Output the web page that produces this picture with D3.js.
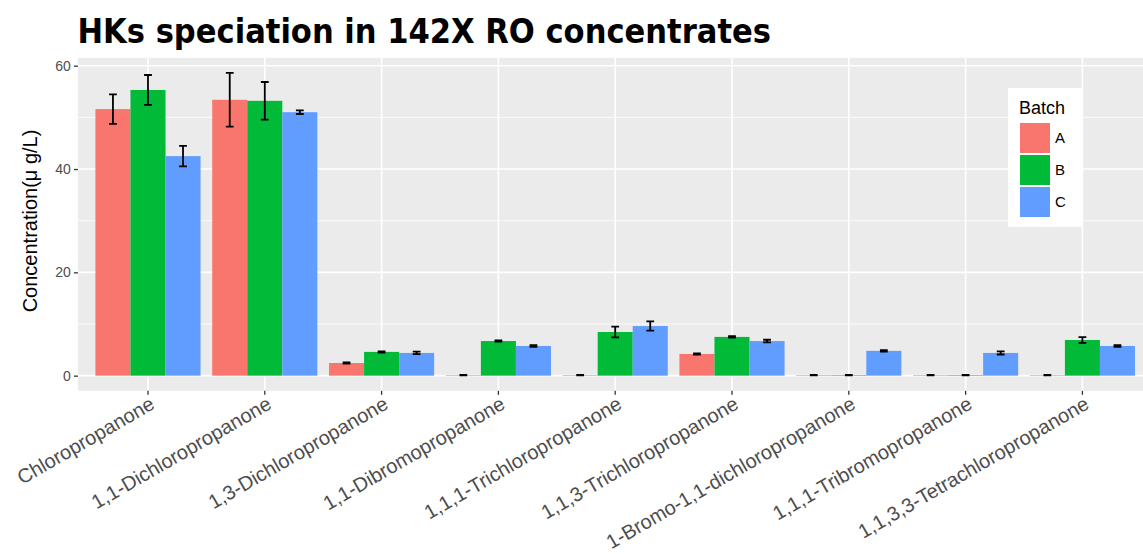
<!DOCTYPE html>
<html>
<head>
<meta charset="utf-8">
<script src="https://cdn.jsdelivr.net/npm/d3@7"></script>
<style>
  html, body { margin: 0; padding: 0; background: #fff; }
  svg { display: block; }
  .title { font-family: "DejaVu Sans Condensed", "DejaVu Sans", sans-serif; font-stretch: condensed; font-weight: bold; }
  text { font-family: "Liberation Sans", Arial, sans-serif; }
</style>
</head>
<body>
<svg id="chart" width="1143" height="554"></svg>
<script>
// Haloketone species measured in 142X RO concentrates, three batches
const compounds = [
  "Chloropropanone", "1,1-Dichloropropanone", "1,3-Dichloropropanone",
  "1,1-Dibromopropanone", "1,1,1-Trichloropropanone", "1,1,3-Trichloropropanone",
  "1-Bromo-1,1-dichloropropanone", "1,1,1-Tribromopropanone", "1,1,3,3-Tetrachloropropanone"
];
const batches = ["A", "B", "C"];
const batchColors = ["#F8766D", "#00BA38", "#619CFF"];

// mean concentrations (µg/L)
const meanA = [51.6, 53.4, 2.45, 0.1, 0.1, 4.2, 0.1, 0.1, 0.1];
const meanB = [55.3, 53.2, 4.6, 6.7, 8.45, 7.5, 0.1, 0.1, 6.9];
const meanC = [42.5, 51.0, 4.4, 5.75, 9.6, 6.7, 4.8, 4.4, 5.75];
// standard deviations (µg/L)
const sdA = [2.85, 5.2, 0.12, 0.05, 0.05, 0.12, 0.05, 0.05, 0.05];
const sdB = [2.9, 3.65, 0.12, 0.12, 1.05, 0.15, 0.05, 0.05, 0.55];
const sdC = [2.0, 0.35, 0.25, 0.15, 0.9, 0.25, 0.15, 0.3, 0.15];

const yTicks = [0, 20, 40, 60];
const yMinor = [10, 30, 50];

const means = [meanA, meanB, meanC];
const sds = [sdA, sdB, sdC];
const rows = [];
compounds.forEach((c, i) => {
  batches.forEach((b, j) => {
    rows.push({ compound: c, batch: b, mean: means[j][i], sd: sds[j][i] });
  });
});

const svg = d3.select("#chart");
const panel = { left: 77.9, right: 1152.5, top: 57.8, bottom: 390.8 };

const yMax = d3.max(rows, d => d.mean + d.sd);
const pad = yMax * 0.05;
const y = d3.scaleLinear().domain([-pad, yMax + pad]).range([panel.bottom, panel.top]);

const x = d3.scaleBand().domain(compounds)
  .range([panel.left, panel.right])
  .paddingInner(0.1).paddingOuter(0.15);
const xSub = d3.scaleBand().domain(batches).range([0, x.bandwidth()]).padding(0);
const color = d3.scaleOrdinal().domain(batches).range(batchColors);
const step = x.step();
const capW = step * 0.2 / 3;

// panel background
svg.append("rect")
  .attr("x", panel.left).attr("y", panel.top)
  .attr("width", panel.right - panel.left).attr("height", panel.bottom - panel.top)
  .attr("fill", "#EBEBEB");

// grid lines
svg.append("g").selectAll("line").data(yMinor).join("line")
  .attr("x1", panel.left).attr("x2", panel.right)
  .attr("y1", d => y(d)).attr("y2", d => y(d))
  .attr("stroke", "#fff").attr("stroke-width", 0.8);
svg.append("g").selectAll("line").data(yTicks).join("line")
  .attr("x1", panel.left).attr("x2", panel.right)
  .attr("y1", d => y(d)).attr("y2", d => y(d))
  .attr("stroke", "#fff").attr("stroke-width", 1.6);
svg.append("g").selectAll("line").data(compounds).join("line")
  .attr("x1", d => x(d) + x.bandwidth() / 2).attr("x2", d => x(d) + x.bandwidth() / 2)
  .attr("y1", panel.top).attr("y2", panel.bottom)
  .attr("stroke", "#fff").attr("stroke-width", 1.6);

// bars
svg.append("g").selectAll("rect").data(rows).join("rect")
  .attr("x", d => x(d.compound) + xSub(d.batch))
  .attr("width", xSub.bandwidth())
  .attr("y", d => y(d.mean))
  .attr("height", d => y(0) - y(d.mean))
  .attr("fill", d => color(d.batch));

// error bars
const eb = svg.append("g").attr("stroke", "#000").attr("stroke-width", 1.8).attr("fill", "none");
rows.forEach(d => {
  const cx = x(d.compound) + xSub(d.batch) + xSub.bandwidth() / 2;
  const hi = y(d.mean + d.sd), lo = y(d.mean - d.sd);
  eb.append("path")
    .attr("d", `M${cx - capW / 2},${hi}H${cx + capW / 2}M${cx},${hi}V${lo}M${cx - capW / 2},${lo}H${cx + capW / 2}`);
});

// y axis
const yAxis = svg.append("g")
  .attr("transform", `translate(${panel.left},0)`)
  .call(d3.axisLeft(y).tickValues(yTicks).tickSize(4).tickPadding(3).tickFormat(d3.format("d")));
yAxis.select(".domain").remove();
yAxis.selectAll(".tick line").attr("stroke", "#333").attr("stroke-width", 1.3);
yAxis.selectAll(".tick text").attr("fill", "#4D4D4D").style("font-size", "14px")
  .style("font-family", "'Liberation Sans', Arial, sans-serif");

// x axis
const xAxis = svg.append("g")
  .attr("transform", `translate(0,${panel.bottom})`)
  .call(d3.axisBottom(x).tickSize(4).tickPadding(3));
xAxis.select(".domain").remove();
xAxis.selectAll(".tick line").attr("stroke", "#333").attr("stroke-width", 1.3);
xAxis.selectAll(".tick text")
  .attr("fill", "#4D4D4D")
  .style("font-size", "20px")
  .style("font-family", "'Liberation Sans', Arial, sans-serif")
  .attr("text-anchor", "end")
  .attr("dy", null)
  .attr("y", null)
  .attr("transform", "translate(8,17) rotate(-30)");

// axis title
svg.append("text")
  .attr("transform", `translate(37,221) rotate(-90)`)
  .attr("text-anchor", "middle")
  .attr("fill", "#000")
  .style("font-size", "20px")
  .text("Concentration(\u03BC g/L)");

// title
svg.append("text")
  .attr("class", "title")
  .attr("x", 77.5).attr("y", 43)
  .attr("fill", "#000")
  .style("font-size", "34px")
  .text("HKs speciation in 142X RO concentrates");

// legend
const lg = svg.append("g").attr("transform", "translate(1008,88)");
lg.append("rect").attr("width", 74).attr("height", 139).attr("fill", "#fff");
lg.append("text").attr("x", 11).attr("y", 26).style("font-size", "18px").attr("fill", "#000").text("Batch");
batches.forEach((b, i) => {
  lg.append("rect")
    .attr("x", 12).attr("y", 35 + i * 32)
    .attr("width", 30).attr("height", 30)
    .attr("fill", color(b));
  lg.append("text")
    .attr("x", 47).attr("y", 35 + i * 32 + 20)
    .style("font-size", "15px").attr("fill", "#000").text(b);
});
</script>
</body>
</html>
